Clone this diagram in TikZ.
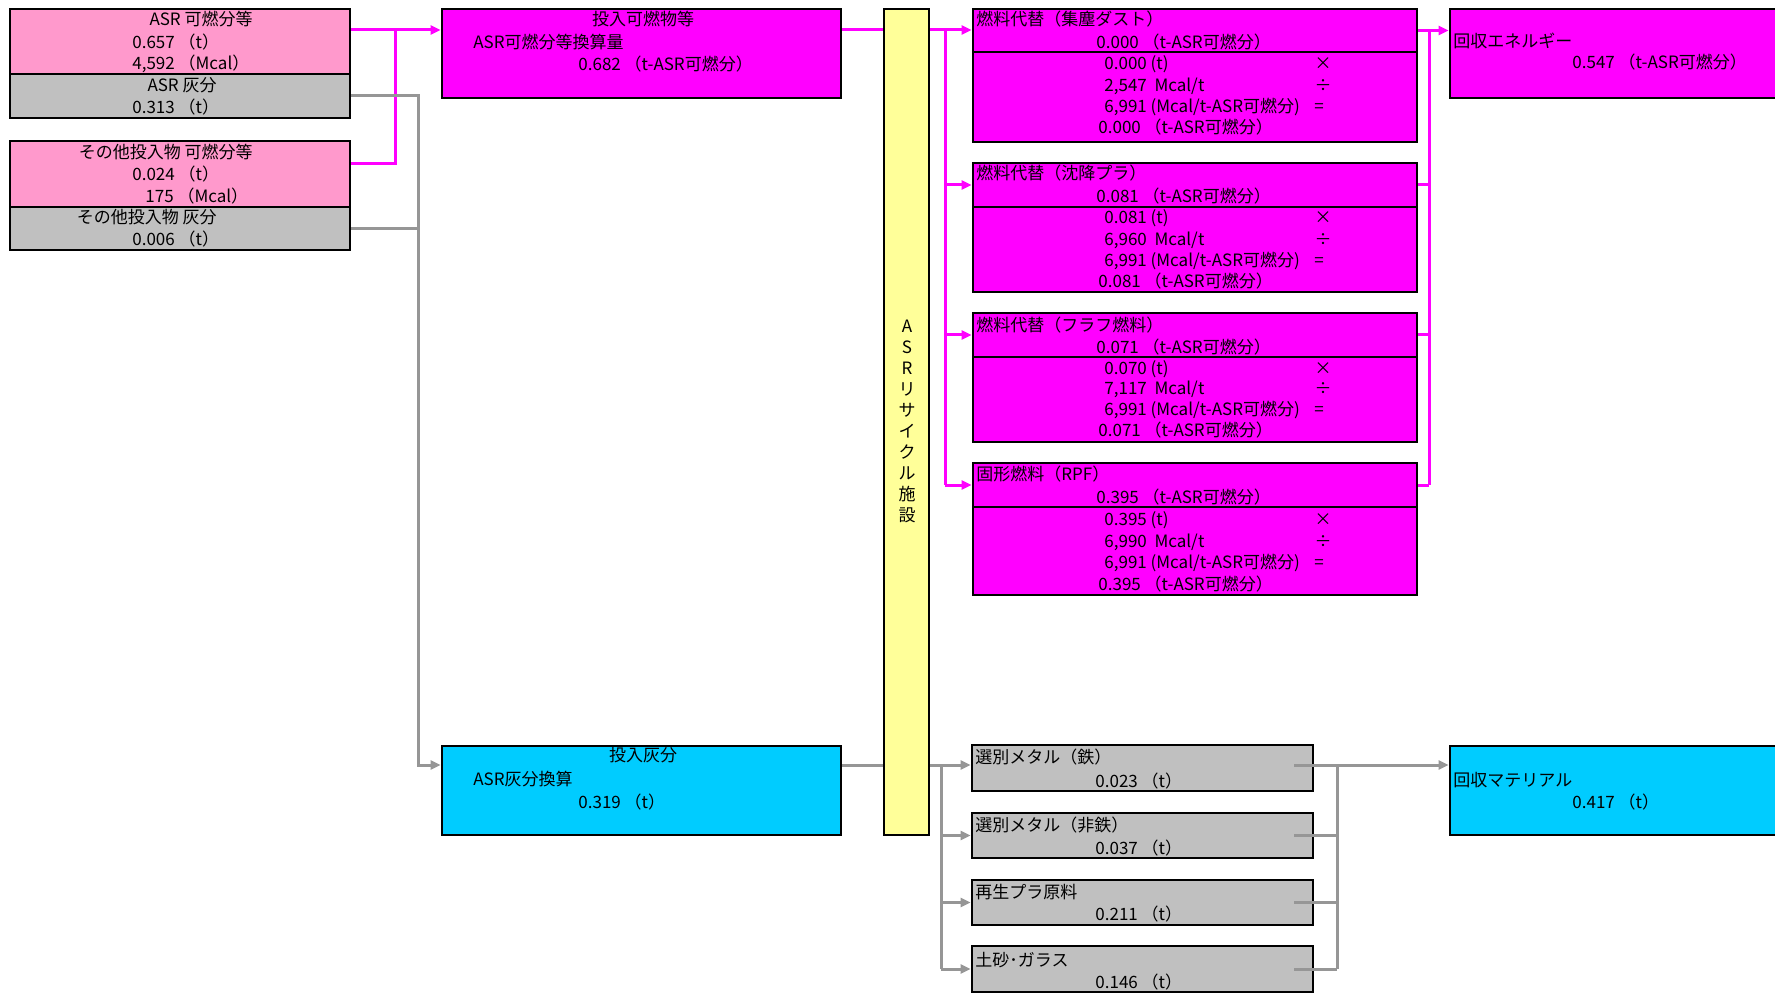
\documentclass[tikz,border=0pt]{standalone}
\usepackage{fontspec}
\setmainfont{Noto Sans CJK JP}
\usepackage{tikz}
\usetikzlibrary{arrows.meta}
\usetikzlibrary{fit}
\usetikzlibrary{positioning}
\usepackage{xcolor}
\definecolor{pinkbg}{HTML}{FF99CC}
\definecolor{graybg}{HTML}{C0C0C0}
\definecolor{magbg}{HTML}{FF00FF}
\definecolor{cyanbg}{HTML}{00CCFF}
\definecolor{yellowbg}{HTML}{FFFF99}
\definecolor{grayln}{HTML}{969696}

\begin{document}
\begin{tikzpicture}[x=5pt,y=-5pt,
  every node/.style={inner sep=0pt, font=\fontsize{8.5pt}{10.5pt}\selectfont},
  lbl/.style={text height=7pt, text depth=1pt},
  blk/.style={draw=black, line width=1.4pt},
  magline/.style={draw=magbg, line width=1.5pt},
  grayline/.style={draw=grayln, line width=1.5pt},
  >={Triangle[length=5pt,width=4.5pt]}
  ]
\useasboundingbox (0,0) rectangle (177.5,99.4);
\clip (0,0) rectangle (177.5,99.4);

% inputs
\node[blk, fill=pinkbg, fit={(1.0,0.9) (35.0,7.4)}] (asrc) {};
\node[blk, fill=graybg, fit={(1.0,7.4) (35.0,11.8)}] (asra) {};
\node[blk, fill=pinkbg, fit={(1.0,14.1) (35.0,20.7)}] (othc) {};
\node[blk, fill=graybg, fit={(1.0,20.7) (35.0,25.0)}] (otha) {};
\node[lbl, anchor=east] (a1) at (25.3,2.0) {ASR 可燃分等};
\node[lbl, anchor=west] (a2) at (13.2,4.3) {0.657 （t）};
\node[lbl, anchor=west] (a3) at (13.2,6.4) {4,592 （Mcal）};
\node[lbl, anchor=east] (a4) at (21.7,8.6) {ASR 灰分};
\node[lbl, anchor=west] (a5) at (13.2,10.8) {0.313 （t）};
\node[lbl, anchor=east] (b1) at (25.3,15.3) {その他投入物 可燃分等};
\node[lbl, anchor=west] (b2) at (13.2,17.5) {0.024 （t）};
\node[lbl, anchor=west] (b3) at (14.5,19.7) {175 （Mcal）};
\node[lbl, anchor=east] (b4) at (21.7,21.8) {その他投入物 灰分};
\node[lbl, anchor=west] (b5) at (13.2,24.0) {0.006 （t）};

% converted inputs
\node[blk, fill=magbg, fit={(44.2,0.9) (84.1,9.8)}] (burnin) {};
\node[lbl] (c1) at (64.3,2.0) {投入可燃物等};
\node[lbl, anchor=west] (c2) at (47.3,4.3) {ASR可燃分等換算量};
\node[lbl, anchor=west] (c3) at (57.8,6.5) {0.682 （t-ASR可燃分）};
\node[blk, fill=cyanbg, fit={(44.2,74.6) (84.1,83.5)}] (ashin) {};
\node[lbl] (d1) at (64.3,75.5) {投入灰分};
\node[lbl, anchor=west] (d2) at (47.3,77.9) {ASR灰分換算};
\node[lbl, anchor=west] (d3) at (57.8,80.2) {0.319 （t）};

% facility
\node[blk, fill=yellowbg, fit={(88.4,0.9) (92.9,83.5)}] (facility) {};
\node[align=center] (facilitytxt) at (90.7,42.1) {A\\S\\R\\リ\\サ\\イ\\ク\\ル\\施\\設};

% fuel outputs
\node[blk, fill=magbg, fit={(97.3,0.9) (141.7,5.2)}] (fuel1h) {};
\node[blk, fill=magbg, fit={(97.3,5.2) (141.7,14.2)}] (fuel1b) {};
\node[blk, fill=magbg, fit={(97.3,16.3) (141.7,20.7)}] (fuel2h) {};
\node[blk, fill=magbg, fit={(97.3,20.7) (141.7,29.2)}] (fuel2b) {};
\node[blk, fill=magbg, fit={(97.3,31.3) (141.7,35.7)}] (fuel3h) {};
\node[blk, fill=magbg, fit={(97.3,35.7) (141.7,44.2)}] (fuel3b) {};
\node[blk, fill=magbg, fit={(97.3,46.3) (141.7,50.7)}] (fuel4h) {};
\node[blk, fill=magbg, fit={(97.3,50.7) (141.7,59.5)}] (fuel4b) {};

\node[lbl, anchor=west] (e1) at (97.6,2.0) {燃料代替（集塵ダスト）};
\node[lbl, anchor=west] (e2) at (109.6,4.3) {0.000 （t-ASR可燃分）};
\node[lbl, anchor=west] (e3) at (110.4,6.4) {0.000\ (t)};
\node[lbl, anchor=west] (e4) at (110.4,8.6) {2,547\ \ Mcal/t};
\node[lbl, anchor=west] (e5) at (110.4,10.7) {6,991\ (Mcal/t-ASR可燃分)};
\node[lbl, anchor=west] (e6) at (109.8,12.8) {0.000 （t-ASR可燃分）};
\node[lbl] (e7) at (132.3,6.4) {×};
\node[lbl] (e8) at (132.3,8.6) {÷};
\node[lbl] (e9) at (131.9,10.7) {=};

\node[lbl, anchor=west] (f1) at (97.6,17.4) {燃料代替（沈降プラ）};
\node[lbl, anchor=west] (f2) at (109.6,19.7) {0.081 （t-ASR可燃分）};
\node[lbl, anchor=west] (f3) at (110.4,21.8) {0.081\ (t)};
\node[lbl, anchor=west] (f4) at (110.4,24.0) {6,960\ \ Mcal/t};
\node[lbl, anchor=west] (f5) at (110.4,26.1) {6,991\ (Mcal/t-ASR可燃分)};
\node[lbl, anchor=west] (f6) at (109.8,28.2) {0.081 （t-ASR可燃分）};
\node[lbl] (f7) at (132.3,21.8) {×};
\node[lbl] (f8) at (132.3,24.0) {÷};
\node[lbl] (f9) at (131.9,26.1) {=};

\node[lbl, anchor=west] (g1) at (97.6,32.5) {燃料代替（フラフ燃料）};
\node[lbl, anchor=west] (g2) at (109.6,34.7) {0.071 （t-ASR可燃分）};
\node[lbl, anchor=west] (g3) at (110.4,36.8) {0.070\ (t)};
\node[lbl, anchor=west] (g4) at (110.4,38.8) {7,117\ \ Mcal/t};
\node[lbl, anchor=west] (g5) at (110.4,40.9) {6,991\ (Mcal/t-ASR可燃分)};
\node[lbl, anchor=west] (g6) at (109.8,43.0) {0.071 （t-ASR可燃分）};
\node[lbl] (g7) at (132.3,36.8) {×};
\node[lbl] (g8) at (132.3,38.8) {÷};
\node[lbl] (g9) at (131.9,40.9) {=};

\node[lbl, anchor=west] (h1) at (97.6,47.4) {固形燃料（RPF）};
\node[lbl, anchor=west] (h2) at (109.6,49.7) {0.395 （t-ASR可燃分）};
\node[lbl, anchor=west] (h3) at (110.4,51.9) {0.395\ (t)};
\node[lbl, anchor=west] (h4) at (110.4,54.1) {6,990\ \ Mcal/t};
\node[lbl, anchor=west] (h5) at (110.4,56.2) {6,991\ (Mcal/t-ASR可燃分)};
\node[lbl, anchor=west] (h6) at (109.8,58.4) {0.395 （t-ASR可燃分）};
\node[lbl] (h7) at (132.3,51.9) {×};
\node[lbl] (h8) at (132.3,54.1) {÷};
\node[lbl] (h9) at (131.9,56.2) {=};

% material outputs
\node[blk, fill=graybg, fit={(97.2,74.5) (131.3,79.1)}] (mat1) {};
\node[blk, fill=graybg, fit={(97.2,81.3) (131.3,85.8)}] (mat2) {};
\node[blk, fill=graybg, fit={(97.2,88.0) (131.3,92.5)}] (mat3) {};
\node[blk, fill=graybg, fit={(97.2,94.6) (131.3,99.2)}] (mat4) {};
\node[lbl, anchor=west] (k1) at (97.5,75.7) {選別メタル（鉄）};
\node[lbl, anchor=west] (k2) at (109.5,78.1) {0.023 （t）};
\node[lbl, anchor=west] (k3) at (97.5,82.5) {選別メタル（非鉄）};
\node[lbl, anchor=west] (k4) at (109.5,84.8) {0.037 （t）};
\node[lbl, anchor=west] (k5) at (97.5,89.2) {再生プラ原料};
\node[lbl, anchor=west] (k6) at (109.5,91.4) {0.211 （t）};
\node[lbl, anchor=west] (k7) at (97.5,96.0) {土砂･ガラス};
\node[lbl, anchor=west] (k8) at (109.5,98.2) {0.146 （t）};

% recovered
\node[blk, fill=magbg, fit={(145.0,0.9) (182.0,9.8)}] (energy) {};
\node[lbl, anchor=west] (r1) at (145.3,4.2) {回収エネルギー};
\node[lbl, anchor=west] (r2) at (157.2,6.3) {0.547 （t-ASR可燃分）};
\node[blk, fill=cyanbg, fit={(145.0,74.6) (182.0,83.5)}] (material) {};
\node[lbl, anchor=west] (r3) at (145.3,78.0) {回収マテリアル};
\node[lbl, anchor=west] (r4) at (157.2,80.2) {0.417 （t）};

% bends
\coordinate (m1) at (39.5,3.0);
\coordinate (m2) at (39.5,16.4);
\coordinate (q1) at (41.8,9.6);
\coordinate (q2) at (41.8,76.5);
\coordinate (m3) at (94.5,3.0);
\coordinate (q3) at (94.1,76.5);
\coordinate (m5) at (142.9,3.1);
\coordinate (q5) at (133.7,76.5);

% connectors
\draw[magline,->] (asrc.east |- m1) -- (burnin.west |- m1);
\draw[magline] (othc.east |- m2) -- (m2) -- (m1);
\draw[grayline,->] (asra.east |- q1) -- (q1) -- (q2) -- (ashin.west |- q2);
\draw[grayline] (otha.east) -- (otha.east -| q1);
\draw[magline] (burnin.east |- m1) -- (facility.west |- m1);
\draw[grayline] (ashin.east |- q2) -- (facility.west |- q2);

\draw[magline,->] (facility.east |- m3) -- (fuel1h.west |- m3);
\draw[magline] (m3) -- (m3 |- fuel4h.west);
\draw[magline,->] (m3 |- fuel2h.west) -- (fuel2h.west);
\draw[magline,->] (m3 |- fuel3h.west) -- (fuel3h.west);
\draw[magline,->] (m3 |- fuel4h.west) -- (fuel4h.west);

\draw[grayline,->] (facility.east |- q3) -- (mat1.west |- q3);
\draw[grayline] (q3) -- (q3 |- mat4.west);
\draw[grayline,->] (q3 |- mat2.west) -- (mat2.west);
\draw[grayline,->] (q3 |- mat3.west) -- (mat3.west);
\draw[grayline,->] (q3 |- mat4.west) -- (mat4.west);

\draw[magline,->] (fuel1h.east) -- (energy.west |- fuel1h.east);
\draw[magline] (m5) -- (m5 |- fuel4h.east);
\draw[magline] (fuel2h.east) -- (fuel2h.east -| m5);
\draw[magline] (fuel3h.east) -- (fuel3h.east -| m5);
\draw[magline] (fuel4h.east) -- (fuel4h.east -| m5);

\draw[grayline,->] ([xshift=-10pt]mat1.east |- q5) -- (material.west |- q5);
\draw[grayline] ([xshift=-10pt]mat2.east) -- (mat2.east -| q5);
\draw[grayline] ([xshift=-10pt]mat3.east) -- (mat3.east -| q5);
\draw[grayline] ([xshift=-10pt]mat4.east) -- (mat4.east -| q5);
\draw[grayline] (q5) -- (mat4.east -| q5);
\end{tikzpicture}
\end{document}
